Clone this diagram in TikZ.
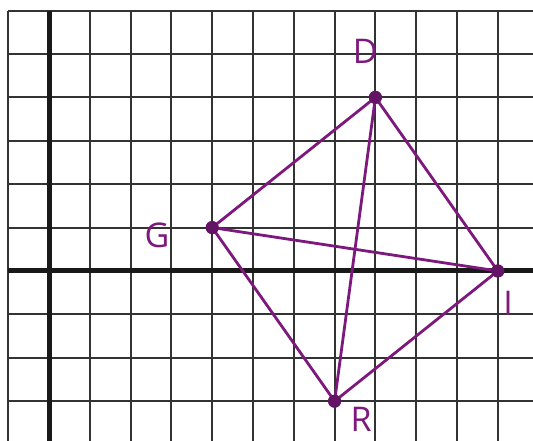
\documentclass[tikz,border=0pt]{standalone}
\usepackage{fontspec}
\setmainfont{Open Sans}
\definecolor{pen}{RGB}{125,25,125}
\tikzset{
  gridline/.style={line width=2pt, black!80},
  axisline/.style={line width=5pt, black!90},
  edge/.style={line width=2.8pt, pen},
  vertex/.style={circle, fill=pen!80!black, inner sep=0pt, minimum size=13pt},
  lab/.style={text=pen, font=\fontsize{34}{34}\selectfont}
}
\begin{document}
\begin{tikzpicture}[x=40.8pt, y=43.4pt]
\useasboundingbox[fill=white] (-1.201,-3.917) rectangle (11.863,6.244);
% grid
\foreach \i in {-1,0,...,11} \draw[gridline] (\i,6) -- (\i,-3.917);
\foreach \j in {-3,-2,...,6} \draw[gridline] (-1,\j) -- (11.863,\j);
% axes
\draw[axisline] (0,6) -- (0,-3.917);
\draw[axisline] (-1,0) -- (11.863,0);
% vertices
\node[vertex] (D) at (8,4) {};
\node[vertex] (G) at (4,1) {};
\node[vertex] (I) at (11,0) {};
\node[vertex] (R) at (7,-3) {};
% edges
\draw[edge] (G.center) -- (D.center) -- (I.center) -- (R.center) -- (G.center) -- (I.center);
\draw[edge] (D.center) -- (R.center);
\node[vertex] at (D) {};
\node[vertex] at (G) {};
\node[vertex] at (I) {};
\node[vertex] at (R) {};
% labels
\node[lab] (lD) at (7.75,5.05) {D};
\node[lab] (lG) at (2.65,0.83) {G};
\node[lab] (lI) at (11.25,-0.74) {I};
\node[lab] (lR) at (7.65,-3.41) {R};
\end{tikzpicture}
\end{document}
